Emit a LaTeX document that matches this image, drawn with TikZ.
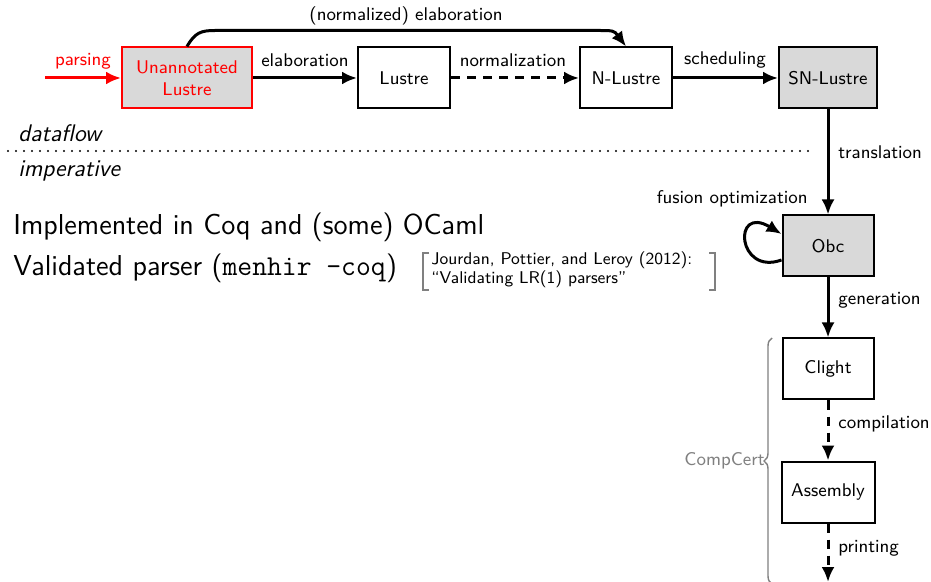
\documentclass[tikz,border=0pt]{standalone}
\usetikzlibrary{arrows.meta,decorations.pathreplacing,calc}
\renewcommand\familydefault{\sfdefault}
\newcommand\lblfont{\fontsize{9.2}{11}\selectfont\sffamily}
\newcommand\bigtxt{\fontsize{14.4}{16}\selectfont\sffamily}
\newcommand\citefont{\fontsize{8.5}{9.5}\selectfont\sffamily}
\newcommand\sidefont{\fontsize{12}{14}\selectfont\sffamily\itshape}
\begin{document}
\begin{tikzpicture}[x=0.5pt,y=-0.5pt,
  box/.style={draw,line width=1pt,minimum height=30.5pt,inner sep=0pt,font=\lblfont,align=center},
  shaded/.style={fill=black!15},
  arr/.style={line width=1.5pt,-{Latex[length=7.5pt,width=6.5pt]}},
  dsh/.style={dash pattern=on 4.5pt off 3.5pt},
  lab/.style={font=\lblfont,inner sep=0pt},
  dotline/.style={line width=1.1pt,line cap=round,dash pattern=on 0pt off 4pt},
  bracket/.style={draw=gray,line width=0.9pt}]
\useasboundingbox (0,0) rectangle (931,582);

% dataflow pipeline
\node[box,shaded,draw=red,text=red,minimum width=65pt] (ua) at (187,78) {Unannotated\\Lustre};
\node[box,minimum width=46pt] (lu) at (404,78) {Lustre};
\node[box,minimum width=46pt] (nl) at (626,78) {N-Lustre};
\node[box,shaded,minimum width=49pt] (sn) at (828,78) {SN-Lustre};

% imperative pipeline
\node[box,shaded,minimum width=45.5pt] (obc) at (828,246) {Obc};
\node[box,minimum width=45.5pt] (cl) at (828,369) {Clight};
\node[box,minimum width=46.5pt] (as) at (828,492) {Assembly};

\coordinate (src) at (45,78);
\coordinate (out) at (828,582);

% horizontal passes
\draw[arr,red] (src) -- (ua);
\node[lab,red] at (83,61) {parsing};
\draw[arr] (ua) -- (lu);
\node[lab] at (305,60) {elaboration};
\draw[arr,dsh] (lu) -- (nl);
\node[lab] at (513,60) {normalization};
\draw[arr] (nl) -- (sn);
\node[lab] at (725,60) {scheduling};

% shortcut over the top
\draw[arr] (ua.north) .. controls ($(ua.north)+(8,-14)$) and ($(ua.north)+(14,-16)$) .. ($(ua.north)+(28,-16)$)
  -- ($(nl.north)+(-30,-16)$) .. controls ($(nl.north)+(-12,-16)$) .. (nl.north);
\node[lab] at (406,16) {(normalized) elaboration};

% vertical passes
\draw[arr] (sn) -- (obc);
\node[lab,anchor=west] at (838,152) {translation};
\draw[arr] ($(obc.west)+(0,14)$) .. controls (737,276) and (732,204) .. ($(obc.west)+(0,-12)$);
\node[lab,anchor=east] at (808,199) {fusion optimization};
\draw[arr] (obc) -- (cl);
\node[lab,anchor=west] at (838,300) {generation};
\draw[arr,dsh] (cl) -- (as);
\node[lab,anchor=west] at (838,424) {compilation};
\draw[arr,dsh] (as) -- (out);
\node[lab,anchor=west] at (838,548) {printing};

% CompCert brace
\coordinate (bb) at (772,584);
\coordinate (bt) at (772,338);
\draw[gray,line width=0.7pt,decorate,decoration={brace,amplitude=4pt}] (bb) -- (bt);
\node[lab,text=gray,anchor=east] at (765,461) {CompCert};

% separator between the two worlds
\coordinate (d0) at (8,151);
\coordinate (d1) at (815,151);
\draw[dotline] (d0) -- (d1);
\node[font=\sidefont,anchor=west,inner sep=0pt] at (18,133) {dataflow};
\node[font=\sidefont,anchor=west,inner sep=0pt] at (18,171) {imperative};

% remarks
\node[font=\bigtxt,anchor=west,inner sep=0pt] (impl) at (13,227) {Implemented in Coq and (some) OCaml};
\node[font=\bigtxt,anchor=west,inner sep=0pt] (val) at (13,268) {Validated parser (\texttt{menhir -coq})};
\node[font=\citefont,anchor=west,align=left,inner sep=0pt] (cite) at (431,270)
  {Jourdan, Pottier, and Leroy (2012):\\“Validating LR(1) parsers”};
\draw[bracket] (429,253) -- (423,253) -- (423,290) -- (429,290);
\draw[bracket] (709,253) -- (715,253) -- (715,290) -- (709,290);
\end{tikzpicture}
\end{document}
